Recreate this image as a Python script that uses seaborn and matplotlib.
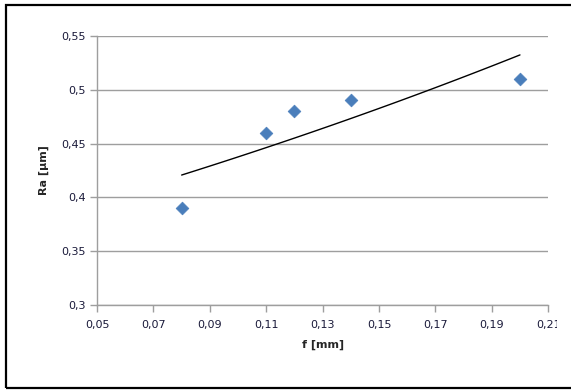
import numpy as np
import pandas as pd
import matplotlib
matplotlib.use("Agg")
import matplotlib.pyplot as plt
from matplotlib.patches import Rectangle
from matplotlib.ticker import FuncFormatter
import seaborn as sns

# data
feed = [0.08, 0.11, 0.12, 0.14, 0.20]
ra = [0.39, 0.46, 0.48, 0.49, 0.51]
x_ticks = [0.05, 0.07, 0.09, 0.11, 0.13, 0.15, 0.17, 0.19, 0.21]
y_ticks = [0.30, 0.35, 0.40, 0.45, 0.50, 0.55]

df = pd.DataFrame({"f": feed, "Ra": ra})

# exponential trendline (excel style)
b, a = np.polyfit(df["f"], np.log(df["Ra"]), 1)
xt = np.linspace(min(feed), max(feed), 100)
trend = pd.DataFrame({"f": xt, "Ra": np.exp(a) * np.exp(b * xt)})

sns.set_style("white")
plt.rcParams["font.family"] = ["DejaVu Sans"]

fig = plt.figure(figsize=(5.71, 3.9), dpi=100)
ax = fig.add_axes([0.170, 0.218, 0.790, 0.690])

sns.lineplot(data=trend, x="f", y="Ra", color="black", linewidth=1.0, ax=ax)
sns.scatterplot(data=df, x="f", y="Ra", marker="D", s=42, color="#4a7ebb",
                edgecolor="#4a7ebb", linewidth=0.5, ax=ax, zorder=3)

ax.set_xlim(0.05, 0.21)
ax.set_ylim(0.3, 0.55)
ax.set_xticks(x_ticks)
ax.set_yticks(y_ticks)
comma = FuncFormatter(lambda v, p: ("%g" % round(v, 2)).replace(".", ","))
ax.xaxis.set_major_formatter(comma)
ax.yaxis.set_major_formatter(comma)
ax.grid(axis="y", color="#9e9e9e", linewidth=1.0)
ax.set_axisbelow(True)
for s in ["top", "right"]:
    ax.spines[s].set_visible(False)
for s in ["left", "bottom"]:
    ax.spines[s].set_color("#9e9e9e")
    ax.spines[s].set_linewidth(1.0)
ax.tick_params(axis="both", direction="out", length=5, width=1.0, bottom=True, left=True,
               color="#9e9e9e", labelsize=8, labelcolor="#1a1a3a", pad=6)
ax.tick_params(axis="y", pad=3)

ax.set_xlabel("f [mm]", fontsize=8, fontweight="bold", labelpad=7)
ax.set_ylabel("Ra [µm]", fontsize=8, fontweight="bold", labelpad=9)

# outer chart border (right edge falls outside the picture)
border = Rectangle((6 / 571, 2 / 390), 600 / 571, 383 / 390, transform=fig.transFigure,
                   fill=False, edgecolor="black", linewidth=1.6)
fig.patches.append(border)
clip = Rectangle((0, 0), 557 / 571, 1, transform=fig.transFigure, visible=False)
fig.patches.append(clip)
for lab in ax.get_xticklabels():
    lab.set_clip_path(clip)

fig.savefig("out.png", dpi=100)
